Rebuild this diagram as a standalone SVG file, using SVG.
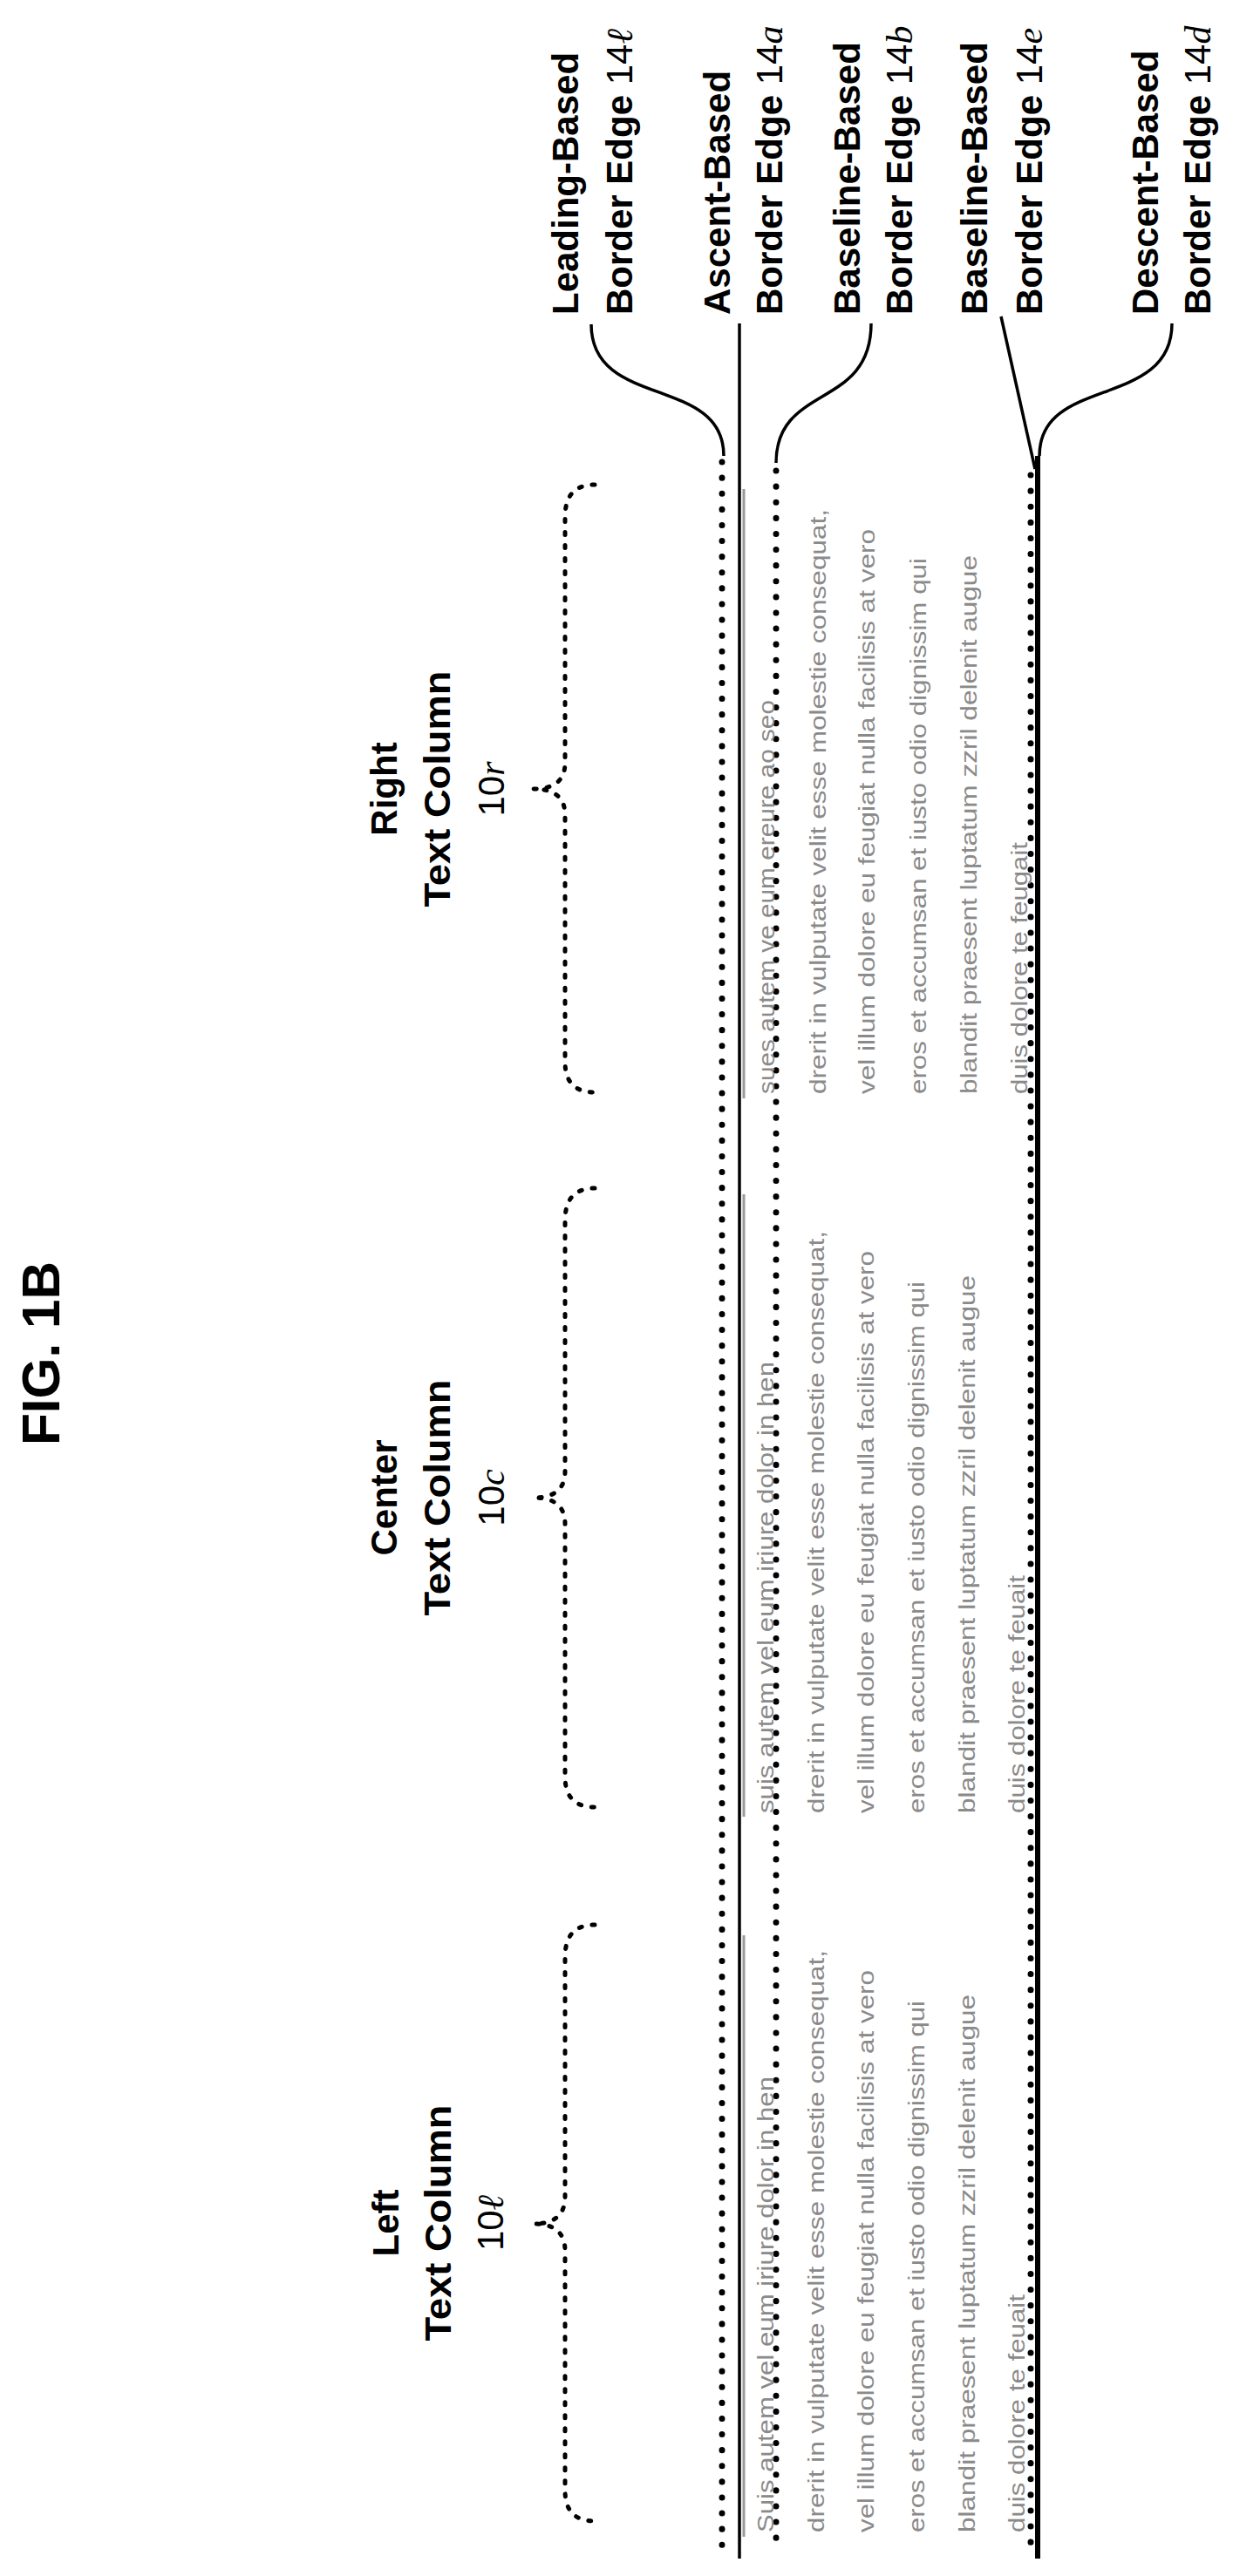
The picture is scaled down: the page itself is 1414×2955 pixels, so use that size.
<svg xmlns="http://www.w3.org/2000/svg" width="1414" height="2955" viewBox="0 0 1414 2955">
<style>
.lbl{font-family:"Liberation Sans",Arial,sans-serif;font-weight:bold;font-size:42px;fill:#000}
.num{font-weight:normal}
.it{font-style:italic;font-family:"Liberation Serif",serif}
.body{font-family:"Liberation Sans",Arial,sans-serif;font-size:26px;fill:#8a8a8a}
.dots{fill:none;stroke:#000;stroke-width:7;stroke-linecap:round;stroke-dasharray:0.1 18}
.brace{fill:none;stroke:#000;stroke-width:5;stroke-linecap:round;stroke-dasharray:3 12}
.conn{fill:none;stroke:#000;stroke-width:3.5}
.gray{stroke:#9a9a9a;stroke-width:3}
</style>
<rect width="1414" height="2955" fill="#fff"/>
<g id="title"><text class="lbl" style="font-size:62px" transform="translate(68,1658) rotate(-90)" textLength="211" lengthAdjust="spacingAndGlyphs">FIG. 1B</text></g>

<g id="connectors">
<path class="conn" d="M678,372 C678,470 830,430 830,523"/>
<path class="conn" d="M848,371 L848,2935"/>
<path class="conn" d="M999,371 C999,470 890,440 890,531"/>
<path class="conn" d="M1148,363 L1187,538"/>
<path class="conn" d="M1344,371 C1344,470 1192,430 1192,523"/>
<path class="dots" d="M828,530 L828,2925"/>
<path class="dots" d="M890,540 L890,2925"/>
<path class="dots" d="M1182,545 L1182,2925"/>
<path d="M1190,523 L1190,2935" stroke="#000" stroke-width="6"/>
<path class="gray" d="M853,561 L853,1260 M853,1370 L853,2084 M853,2220 L853,2910"/>
</g>

<g id="edge-14l"><text class="lbl" transform="translate(663,361) rotate(-90)">Leading-Based</text><text class="lbl" transform="translate(725,361) rotate(-90)">Border Edge <tspan class="num">14</tspan><tspan class="num it">ℓ</tspan></text></g>
<g id="edge-14a"><text class="lbl" transform="translate(837,361) rotate(-90)">Ascent-Based</text><text class="lbl" transform="translate(897,361) rotate(-90)">Border Edge <tspan class="num">14</tspan><tspan class="num it">a</tspan></text></g>
<g id="edge-14b"><text class="lbl" transform="translate(986,361) rotate(-90)">Baseline-Based</text><text class="lbl" transform="translate(1046,361) rotate(-90)">Border Edge <tspan class="num">14</tspan><tspan class="num it">b</tspan></text></g>
<g id="edge-14e"><text class="lbl" transform="translate(1132,361) rotate(-90)">Baseline-Based</text><text class="lbl" transform="translate(1195,361) rotate(-90)">Border Edge <tspan class="num">14</tspan><tspan class="num it">e</tspan></text></g>
<g id="edge-14d"><text class="lbl" transform="translate(1328,361) rotate(-90)">Descent-Based</text><text class="lbl" transform="translate(1388,361) rotate(-90)">Border Edge <tspan class="num">14</tspan><tspan class="num it">d</tspan></text></g>

<g id="col-left">
<path class="brace" d="M682,2208 Q648,2208 648,2245 L648,2520 Q648,2551 612,2551 Q648,2551 648,2582 L648,2857 Q648,2892 682,2892"/>
<text class="lbl" text-anchor="middle" transform="translate(457,2550) rotate(-90)">Left</text>
<text class="lbl" text-anchor="middle" transform="translate(517,2550) rotate(-90)" textLength="271" lengthAdjust="spacingAndGlyphs">Text Column</text>
<text class="lbl num" text-anchor="middle" transform="translate(577,2550) rotate(-90)">10<tspan class="it">ℓ</tspan></text>
<text class="body" transform="translate(887,2905) rotate(-90)" textLength="523" lengthAdjust="spacingAndGlyphs">Suis autem vel eum iriure dolor in hen</text>
<text class="body" transform="translate(945,2905) rotate(-90)" textLength="668" lengthAdjust="spacingAndGlyphs">drerit in vulputate velit esse molestie consequat,</text>
<text class="body" transform="translate(1002,2905) rotate(-90)" textLength="645" lengthAdjust="spacingAndGlyphs">vel illum dolore eu feugiat nulla facilisis at vero</text>
<text class="body" transform="translate(1060,2905) rotate(-90)" textLength="610" lengthAdjust="spacingAndGlyphs">eros et accumsan et iusto odio dignissim qui</text>
<text class="body" transform="translate(1118,2905) rotate(-90)" textLength="617" lengthAdjust="spacingAndGlyphs">blandit praesent luptatum zzril delenit augue</text>
<text class="body" transform="translate(1175,2905) rotate(-90)" textLength="273" lengthAdjust="spacingAndGlyphs">duis dolore te feuait</text>
</g>

<g id="col-center">
<path class="brace" d="M682,1363 Q648,1363 648,1400 L648,1688 Q648,1718 612,1718 Q648,1718 648,1748 L648,2038 Q648,2073 682,2073"/>
<text class="lbl" text-anchor="middle" transform="translate(455,1718) rotate(-90)">Center</text>
<text class="lbl" text-anchor="middle" transform="translate(516,1718) rotate(-90)" textLength="271" lengthAdjust="spacingAndGlyphs">Text Column</text>
<text class="lbl num" text-anchor="middle" transform="translate(578,1718) rotate(-90)">10<tspan class="it">c</tspan></text>
<text class="body" transform="translate(887,2080) rotate(-90)" textLength="518" lengthAdjust="spacingAndGlyphs">suis autem vel eum iriure dolor in hen</text>
<text class="body" transform="translate(945,2080) rotate(-90)" textLength="668" lengthAdjust="spacingAndGlyphs">drerit in vulputate velit esse molestie consequat,</text>
<text class="body" transform="translate(1002,2080) rotate(-90)" textLength="645" lengthAdjust="spacingAndGlyphs">vel illum dolore eu feugiat nulla facilisis at vero</text>
<text class="body" transform="translate(1060,2080) rotate(-90)" textLength="610" lengthAdjust="spacingAndGlyphs">eros et accumsan et iusto odio dignissim qui</text>
<text class="body" transform="translate(1118,2080) rotate(-90)" textLength="617" lengthAdjust="spacingAndGlyphs">blandit praesent luptatum zzril delenit augue</text>
<text class="body" transform="translate(1175,2080) rotate(-90)" textLength="273" lengthAdjust="spacingAndGlyphs">duis dolore te feuait</text>
</g>

<g id="col-right">
<path class="brace" d="M682,556 Q648,556 648,593 L648,875 Q648,905 612,905 Q648,905 648,935 L648,1218 Q648,1253 682,1253"/>
<text class="lbl" text-anchor="middle" transform="translate(455,905) rotate(-90)">Right</text>
<text class="lbl" text-anchor="middle" transform="translate(516,905) rotate(-90)" textLength="271" lengthAdjust="spacingAndGlyphs">Text Column</text>
<text class="lbl num" text-anchor="middle" transform="translate(578,905) rotate(-90)">10<tspan class="it">r</tspan></text>
<text class="body" transform="translate(888,1255) rotate(-90)" textLength="452" lengthAdjust="spacingAndGlyphs">sues autem ve eum ereure ao seo</text>
<text class="body" transform="translate(947,1255) rotate(-90)" textLength="671" lengthAdjust="spacingAndGlyphs">drerit in vulputate velit esse molestie consequat,</text>
<text class="body" transform="translate(1003,1255) rotate(-90)" textLength="648" lengthAdjust="spacingAndGlyphs">vel illum dolore eu feugiat nulla facilisis at vero</text>
<text class="body" transform="translate(1062,1255) rotate(-90)" textLength="615" lengthAdjust="spacingAndGlyphs">eros et accumsan et iusto odio dignissim qui</text>
<text class="body" transform="translate(1120,1255) rotate(-90)" textLength="618" lengthAdjust="spacingAndGlyphs">blandit praesent luptatum zzril delenit augue</text>
<text class="body" transform="translate(1178,1255) rotate(-90)" textLength="289" lengthAdjust="spacingAndGlyphs">duis dolore te feugait</text>
</g>
</svg>
